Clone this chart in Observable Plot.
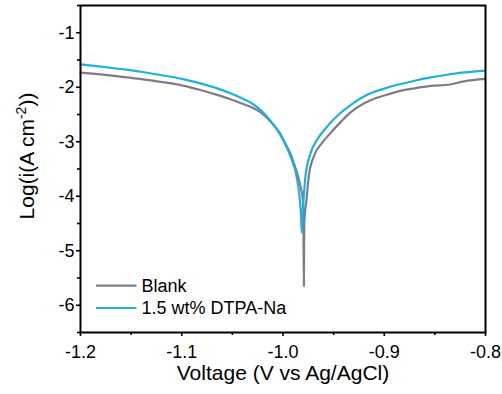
<!DOCTYPE html>
<html>
<head>
<meta charset="utf-8">
<script src="https://cdn.jsdelivr.net/npm/d3@7"></script>
<script src="https://cdn.jsdelivr.net/npm/@observablehq/plot@0.6"></script>
<style>
  html, body { margin: 0; padding: 0; background: #fff; }
  #chart { width: 502px; height: 394px; }
</style>
</head>
<body>
<div id="chart"></div>
<script>
// Data
const blankV = [-1.2, -1.18, -1.1605, -1.14, -1.121, -1.10, -1.0815, -1.065, -1.0519, -1.042, -1.0321, -1.022, -1.0123, -1.0025, -0.9992, -0.9926, -0.9893, -0.986, -0.9827, -0.9804, -0.9798, -0.9794, -0.9790, -0.9768, -0.9745, -0.9696, -0.9613, -0.9531, -0.9432, -0.9333, -0.924, -0.9136, -0.9, -0.887, -0.87, -0.854, -0.8346, -0.826, -0.8214, -0.8];
const blankLogI = [-1.73, -1.765, -1.805, -1.85, -1.90, -1.965, -2.05, -2.14, -2.22, -2.29, -2.36, -2.46, -2.63, -2.86, -2.98, -3.22, -3.39, -3.58, -3.82, -4.06, -4.5, -5.65, -4.5, -4.06, -3.63, -3.27, -3.02, -2.84, -2.64, -2.46, -2.34, -2.24, -2.15, -2.08, -2.02, -1.976, -1.95, -1.91, -1.893, -1.847];

const dtpaV = [-1.2, -1.18, -1.1605, -1.14, -1.121, -1.10, -1.0815, -1.065, -1.0519, -1.042, -1.0321, -1.022, -1.0123, -1.0025, -0.9926, -0.986, -0.9834, -0.9822, -0.9814, -0.9806, -0.9795, -0.9778, -0.9728, -0.9662, -0.9563, -0.9531, -0.9449, -0.9333, -0.924, -0.9136, -0.9, -0.887, -0.87, -0.854, -0.838, -0.8214, -0.8];
const dtpaLogI = [-1.579, -1.62, -1.665, -1.715, -1.775, -1.845, -1.93, -2.02, -2.11, -2.19, -2.28, -2.42, -2.62, -2.88, -3.27, -3.69, -4.06, -4.35, -4.67, -4.3, -4.0, -3.63, -3.21, -2.96, -2.72, -2.65, -2.5, -2.33, -2.21, -2.11, -2.025, -1.955, -1.88, -1.82, -1.77, -1.728, -1.695];

const seriesNames = ["Blank", "1.5 wt% DTPA-Na"];
const seriesColors = ["#7e7c8a", "#1cb0e3"];

const xTicks = [-1.2, -1.1, -1.0, -0.9, -0.8];
const xTickLabels = ["-1.2", "-1.1", "-1.0", "-0.9", "-0.8"];
const xMinorTicks = [-1.15, -1.05, -0.95, -0.85];
const yTicks = [-6, -5, -4, -3, -2, -1];
const yTickLabels = ["-6", "-5", "-4", "-3", "-2", "-1"];
const yMinorTicks = [-6.5, -5.5, -4.5, -3.5, -2.5, -1.5, -0.5];

const blank = blankV.map((v, i) => ({v, y: blankLogI[i], s: seriesNames[0]}));
const dtpa = dtpaV.map((v, i) => ({v, y: dtpaLogI[i], s: seriesNames[1]}));

const FONT = "'Liberation Sans', Arial, Helvetica, sans-serif";

const plot = Plot.plot({
  width: 502,
  height: 394,
  marginLeft: 80,
  marginRight: 17,
  marginTop: 5,
  marginBottom: 62,
  style: {fontFamily: FONT, background: "#fff", color: "#000", overflow: "visible"},
  x: {domain: [-1.2, -0.8]},
  y: {domain: [-6.5, -0.5]},
  marks: [
    Plot.line(blank, {x: "v", y: "y", stroke: seriesColors[0], strokeWidth: 2.2, curve: "monotone-x"}),
    Plot.line(dtpa, {x: "v", y: "y", stroke: seriesColors[1], strokeWidth: 2.2, curve: "monotone-x"}),
    Plot.axisX(xTicks, {tickSize: 4, tickPadding: 9, strokeWidth: 1.6, fontSize: 18,
      tickFormat: d => xTickLabels[xTicks.indexOf(d)], label: null}),
    Plot.axisX(xMinorTicks, {tickSize: 3, strokeWidth: 1.6, tickFormat: () => "", label: null}),
    Plot.axisY(yTicks, {tickSize: 4, tickPadding: 2, strokeWidth: 1.6, fontSize: 18,
      tickFormat: d => yTickLabels[yTicks.indexOf(d)], label: null}),
    Plot.axisY(yMinorTicks, {tickSize: 3, strokeWidth: 1.6, tickFormat: () => "", label: null}),
    Plot.frame({stroke: "#000", strokeWidth: 2})
  ]
});

const svg = d3.select(plot);

// Axis titles
svg.append("text")
  .attr("x", 283).attr("y", 380)
  .attr("text-anchor", "middle")
  .attr("font-family", FONT).attr("font-size", 21).attr("fill", "#000")
  .text("Voltage (V vs Ag/AgCl)");

const yt = svg.append("text")
  .attr("transform", "translate(33.5,156) rotate(-90)")
  .attr("text-anchor", "middle")
  .attr("font-family", FONT).attr("font-size", 21).attr("fill", "#000");
yt.append("tspan").text("Log(i(A cm");
yt.append("tspan").attr("font-size", 14).attr("dy", -8).text("-2");
yt.append("tspan").attr("dy", 8).text("))");

// Legend
const legendY = [285.7, 308];
const legendTextY = [291.8, 314];
seriesNames.forEach((name, i) => {
  svg.append("line")
    .attr("x1", 96).attr("x2", 136.5)
    .attr("y1", legendY[i]).attr("y2", legendY[i])
    .attr("stroke", seriesColors[i]).attr("stroke-width", 2.2);
  svg.append("text")
    .attr("x", 141.5).attr("y", legendTextY[i])
    .attr("text-anchor", "start")
    .attr("font-family", FONT).attr("font-size", 18).attr("fill", "#000")
    .text(name);
});

document.getElementById("chart").appendChild(plot);
</script>
</body>
</html>
